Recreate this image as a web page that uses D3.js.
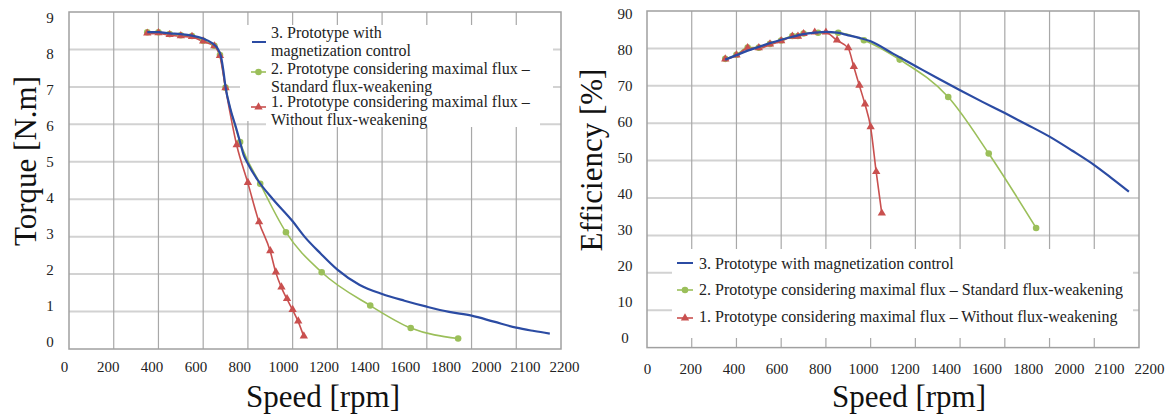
<!DOCTYPE html>
<html>
<head>
<meta charset="utf-8">
<script src="https://cdn.jsdelivr.net/npm/d3@7"></script>
<style>
  text { font-family: 'Liberation Serif' !important; }
</style>
</head>
<body style="margin:0">
<div id="chart"></div>
<script>
const WIDTH = 1172;
const HEIGHT = 414;

// tick labels
const speedTicks = [0, 200, 400, 600, 800, 1000, 1200, 1400, 1600, 1800, 2000, 2100, 2200];
const torqueTicks = [0, 1, 2, 3, 4, 5, 6, 7, 8, 9];
const effTicks = [0, 10, 20, 30, 40, 50, 60, 70, 80, 90];

// 3. prototype with magnetization control (line only)
const magSpeedT = [350, 400, 450, 500, 550, 600, 640, 665, 680, 690, 700, 720, 750, 765, 780, 800, 845, 912, 1000, 1053, 1125, 1200, 1300, 1400, 1500, 1600, 1700, 1800, 1900, 2000, 2080, 2150];
const magTorque = [8.46, 8.46, 8.43, 8.41, 8.37, 8.29, 8.17, 8.02, 7.8, 7.45, 7.0, 6.45, 5.85, 5.52, 5.2, 4.95, 4.5, 4.0, 3.41, 3.0, 2.55, 2.12, 1.71, 1.47, 1.29, 1.13, 0.99, 0.89, 0.73, 0.57, 0.48, 0.41];
const magSpeedE = [350, 400, 450, 500, 550, 600, 650, 700, 750, 800, 850, 900, 950, 1000, 1100, 1200, 1300, 1400, 1500, 1600, 1700, 1800, 1900, 2000, 2080, 2155];
const magEff = [77.0, 78.2, 79.4, 80.4, 81.4, 82.3, 83.1, 83.8, 84.2, 84.4, 84.2, 83.5, 82.8, 81.9, 78.6, 75.3, 72.0, 68.8, 65.7, 62.7, 59.6, 56.4, 52.7, 48.8, 45.2, 41.7];

// 2. maximal flux, standard flux-weakening
const stdSpeed = [350, 400, 450, 500, 550, 600, 650, 675, 700, 765, 855, 970, 1130, 1347, 1528, 1740];
const stdTorque = [8.46, 8.46, 8.41, 8.38, 8.36, 8.23, 8.1, 7.85, 6.98, 5.53, 4.41, 3.12, 2.05, 1.16, 0.56, 0.28];
const stdEff = [77.2, 78.3, 80.2, 80.2, 81.2, 82.1, 83.3, 83.3, 84.0, 84.2, 84.2, 82.2, 77.0, 67.0, 51.9, 32.0];

// 1. maximal flux, without flux-weakening
const noSpeed = [350, 400, 450, 500, 550, 600, 650, 675, 700, 750, 800, 850, 900, 925, 950, 975, 1000, 1025, 1050];
const noTorque = [8.42, 8.43, 8.38, 8.35, 8.33, 8.21, 8.08, 7.82, 6.96, 5.44, 4.43, 3.38, 2.61, 2.04, 1.64, 1.33, 1.04, 0.73, 0.33];
const noEff = [77.0, 78.1, 80.0, 80.0, 81.0, 81.9, 83.1, 83.1, 83.8, 84.2, 84.2, 82.1, 80.0, 75.0, 70.0, 65.0, 58.9, 46.9, 35.8];

const BLUE = "#2b4ba3";
const GREEN = "#9bbf5a";
const RED = "#c9504f";
const SERIF = "Liberation Serif";

const svg = d3
  .select("#chart")
  .append("svg")
  .attr("width", WIDTH)
  .attr("height", HEIGHT);

svg.append("rect").attr("width", WIDTH).attr("height", HEIGHT).attr("fill", "#fff");

const zip = (xs, ys) => xs.map((x, i) => ({ x: x, y: ys[i] }));

function serif(sel, size) {
  sel.attr("font-family", SERIF).attr("font-size", size).style("font-family", SERIF);
}

function drawPanel(p) {
  const g = svg.append("g");
  const x = d3.scaleLinear().domain([0, 2200]).range([p.left, p.right]);
  const y = d3.scaleLinear().domain([0, p.yMax]).range([p.bottom, p.top]);

  // grid
  g.append("g")
    .selectAll("line")
    .data(p.yTicks.slice(1, -1))
    .join("line")
    .attr("x1", p.left)
    .attr("x2", p.right)
    .attr("y1", (d) => y(d))
    .attr("y2", (d) => y(d))
    .style("stroke", "#d2d2d2")
    .style("stroke-width", 2);
  g.append("g")
    .selectAll("line")
    .data(d3.range(200, 2200, 200))
    .join("line")
    .attr("x1", (d) => x(d))
    .attr("x2", (d) => x(d))
    .attr("y1", p.top)
    .attr("y2", p.bottom)
    .style("stroke", "#a8a8a8")
    .style("stroke-width", 1.2);
  g.append("rect")
    .attr("x", p.left)
    .attr("y", p.top)
    .attr("width", p.right - p.left)
    .attr("height", p.bottom - p.top)
    .attr("fill", "none")
    .style("stroke", "#a0a0a0")
    .style("stroke-width", 1.5);

  // legend background hides the grid
  p.legendBoxes.forEach((b) => {
    g.append("rect")
      .attr("x", b[0])
      .attr("y", b[1])
      .attr("width", b[2])
      .attr("height", b[3])
      .attr("fill", "#fff");
  });

  const line = d3
    .line()
    .x((d) => x(d.x))
    .y((d) => y(d.y))
    .curve(d3.curveMonotoneX);

  g.append("path")
    .datum(zip(stdSpeed, p.std))
    .attr("d", line)
    .attr("fill", "none")
    .style("stroke", GREEN)
    .style("stroke-width", 1.6);
  g.append("path")
    .datum(zip(noSpeed, p.no))
    .attr("d", line)
    .attr("fill", "none")
    .style("stroke", RED)
    .style("stroke-width", 1.6);

  g.selectAll(".dot")
    .data(zip(stdSpeed, p.std))
    .join("path")
    .attr("class", "dot")
    .attr("d", d3.symbol(d3.symbolCircle, 34))
    .attr("transform", (d) => `translate(${x(d.x)},${y(d.y)})`)
    .attr("fill", GREEN);
  g.selectAll(".tri")
    .data(zip(noSpeed, p.no))
    .join("path")
    .attr("class", "tri")
    .attr("d", d3.symbol(d3.symbolTriangle, 30))
    .attr("transform", (d) => `translate(${x(d.x)},${y(d.y) - 0.5})`)
    .attr("fill", RED);

  g.append("path")
    .datum(zip(p.magSpeed, p.mag))
    .attr("d", line)
    .attr("fill", "none")
    .style("stroke", BLUE)
    .style("stroke-width", 2.2);

  // tick labels (placed like in the original figure, not on the grid)
  const labelX = d3
    .scaleLinear()
    .domain([0, 1000, 2000, 2200])
    .range(p.labelXRange);
  g.append("g")
    .attr("transform", `translate(0, ${p.labelXY})`)
    .call(d3.axisBottom(labelX).tickValues(speedTicks).tickSize(0).tickFormat(d3.format("d")))
    .call((a) => {
      a.attr("font-family", SERIF).attr("font-size", "15px");
      a.select(".domain").remove();
      a.selectAll("text")
        .attr("y", 0)
        .attr("dy", "0.35em")
        .attr("fill", "#222")
        .call(serif, "15px");
    });

  const labelY = d3.scaleLinear().domain([0, p.yMax]).range(p.labelYRange);
  g.append("g")
    .attr("transform", `translate(${p.labelYX}, 0)`)
    .call(d3.axisLeft(labelY).tickValues(p.yTicks).tickSize(0))
    .call((a) => {
      a.attr("font-family", SERIF).attr("font-size", "15px");
      a.select(".domain").remove();
      a.selectAll("text")
        .attr("x", 0)
        .attr("dy", "0.35em")
        .attr("text-anchor", "middle")
        .attr("fill", "#222")
        .call(serif, "15px");
    });

  // axis titles
  g.append("text")
    .attr("x", p.xTitle[0])
    .attr("y", p.xTitle[1])
    .attr("text-anchor", "middle")
    .attr("dominant-baseline", "central")
    .attr("fill", "#111")
    .call(serif, "31px")
    .text("Speed [rpm]");
  g.append("text")
    .attr("transform", `translate(${p.yTitle[0]}, ${p.yTitle[1]}) rotate(-90)`)
    .attr("text-anchor", "middle")
    .attr("dominant-baseline", "central")
    .attr("fill", "#111")
    .call(serif, "31px")
    .text(p.yLabel);

  // legend
  const leg = g.append("g");
  p.legend.forEach((item) => {
    leg.append("line")
      .attr("x1", item.sx[0])
      .attr("x2", item.sx[1])
      .attr("y1", item.sy)
      .attr("y2", item.sy)
      .style("stroke", item.color)
      .style("stroke-width", item.marker ? 1.6 : 2);
    if (item.marker) {
      leg.append("path")
        .attr("d", d3.symbol(item.marker, item.marker === d3.symbolCircle ? 34 : 30))
        .attr("transform", `translate(${(item.sx[0] + item.sx[1]) / 2},${item.sy})`)
        .attr("fill", item.color);
    }
    item.lines.forEach((t, i) => {
      leg.append("text")
        .attr("x", item.tx)
        .attr("y", item.ty[i])
        .attr("dominant-baseline", "central")
        .attr("fill", "#222")
        .call(serif, "16px")
        .text(t);
    });
  });
}

drawPanel({
  left: 69,
  right: 561,
  top: 12,
  bottom: 349,
  yMax: 9,
  yTicks: torqueTicks,
  mag: magTorque,
  magSpeed: magSpeedT,
  std: stdTorque,
  no: noTorque,
  labelXRange: [64, 283, 486, 564],
  labelXY: 367,
  labelYRange: [341.7, 17],
  labelYX: 50,
  xTitle: [323, 396],
  yTitle: [25, 161],
  yLabel: "Torque [N.m]",
  legendBoxes: [
    [240, 25, 313, 96],
    [266, 121, 274, 6],
  ],
  legend: [
    { color: BLUE, marker: null, sx: [252, 266], sy: 42, tx: 271, ty: [32, 50],
      lines: ["3. Prototype with", "magnetization control"] },
    { color: GREEN, marker: d3.symbolCircle, sx: [251, 266], sy: 72, tx: 271, ty: [68, 86],
      lines: ["2. Prototype considering maximal flux \u2013", "Standard flux-weakening"] },
    { color: RED, marker: d3.symbolTriangle, sx: [251, 266], sy: 107, tx: 271, ty: [101, 119],
      lines: ["1. Prototype considering maximal flux \u2013", "Without flux-weakening"] },
  ],
});

drawPanel({
  left: 647,
  right: 1139,
  top: 11,
  bottom: 347.6,
  yMax: 90,
  yTicks: effTicks,
  mag: magEff,
  magSpeed: magSpeedE,
  std: stdEff,
  no: noEff,
  labelXRange: [647, 863, 1069, 1149],
  labelXY: 369,
  labelYRange: [337.3, 13.3],
  labelYX: 625,
  xTitle: [909, 396],
  yTitle: [591, 160],
  yLabel: "Efficiency [%]",
  legendBoxes: [
    [672, 249, 461, 89],
  ],
  legend: [
    { color: BLUE, marker: null, sx: [677, 693], sy: 263, tx: 699, ty: [263],
      lines: ["3. Prototype with magnetization control"] },
    { color: GREEN, marker: d3.symbolCircle, sx: [677, 693], sy: 290, tx: 699, ty: [289],
      lines: ["2. Prototype considering maximal flux \u2013 Standard flux-weakening"] },
    { color: RED, marker: d3.symbolTriangle, sx: [677, 693], sy: 318, tx: 699, ty: [316],
      lines: ["1. Prototype considering maximal flux \u2013 Without flux-weakening"] },
  ],
});
</script>
</body>
</html>
